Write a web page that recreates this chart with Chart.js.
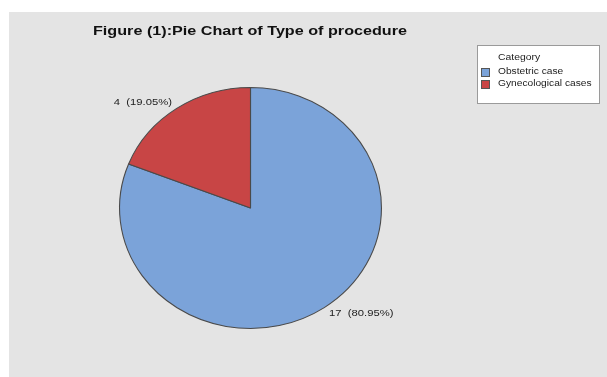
<!DOCTYPE html>
<html>
<head>
<meta charset="utf-8">
<script src="https://cdn.jsdelivr.net/npm/chart.js@4/dist/chart.umd.min.js"></script>
<style>
html,body{margin:0;padding:0;background:#fff;}
canvas{display:block;}
</style>
</head>
<body>
<canvas id="c" width="607" height="377"></canvas>
<script>
const titleText = "Figure (1):Pie Chart of Type of procedure";
const legendTitle = "Category";
const categories = ["Obstetric case", "Gynecological cases"];
const counts = [17, 4];
const percentLabels = ["80.95%", "19.05%"];
const colors = ["#7ba3d9", "#c84545"];

const RX = 131.5, RY = 121;
const SX = RX / RY;

function wideText(ctx, text, x, y, sx, align) {
  const w = ctx.measureText(text).width * sx;
  let left = x;
  if (align === 'right') left = x - w;
  ctx.save();
  ctx.textAlign = 'left';
  ctx.translate(left, y);
  ctx.scale(sx, 1);
  ctx.fillText(text, 0, 0);
  ctx.restore();
}

const stretchPlugin = {
  id: 'stretch',
  beforeDraw(chart) {
    const ctx = chart.ctx;
    ctx.save();
    ctx.fillStyle = '#ffffff';
    ctx.fillRect(0, 0, chart.width, chart.height);
    ctx.fillStyle = '#e4e4e4';
    ctx.fillRect(9, 12, chart.width - 9, chart.height - 12);
    ctx.restore();
  },
  beforeDatasetsDraw(chart) {
    const arc = chart.getDatasetMeta(0).data[0];
    const ctx = chart.ctx;
    ctx.save();
    ctx.translate(arc.x, arc.y);
    ctx.scale(SX, 1);
    ctx.translate(-arc.x, -arc.y);
  },
  afterDatasetsDraw(chart) {
    chart.ctx.restore();
  },
  afterDraw(chart) {
    const ctx = chart.ctx;
    ctx.save();
    ctx.textBaseline = 'middle';
    // title
    ctx.fillStyle = '#111';
    ctx.font = 'bold 13.5px "Liberation Sans", Arial, sans-serif';
    const tw = ctx.measureText(titleText).width;
    wideText(ctx, titleText, 93, 31, 314 / tw, 'left');

    // slice labels
    const meta = chart.getDatasetMeta(0);
    ctx.font = '9px "Liberation Sans", Arial, sans-serif';
    ctx.fillStyle = '#222';
    meta.data.forEach((a, i) => {
      const mid = (a.startAngle + a.endAngle) / 2;
      const k = 1.06;
      const x = a.x + Math.cos(mid) * RX * k;
      const y = a.y + Math.sin(mid) * RY * k;
      wideText(ctx, counts[i] + "  (" + percentLabels[i] + ")", x, y, 1.25, Math.cos(mid) < 0 ? 'right' : 'left');
    });

    // legend box
    ctx.fillStyle = '#ffffff';
    ctx.fillRect(477, 45, 123, 59);
    ctx.strokeStyle = '#9a9a9a';
    ctx.lineWidth = 1;
    ctx.strokeRect(477.5, 45.5, 122, 58);
    ctx.fillStyle = '#222';
    ctx.font = '8.5px "Liberation Sans", Arial, sans-serif';
    wideText(ctx, legendTitle, 498, 58, 1.22, 'left');
    categories.forEach((c, i) => {
      const y = 72 + i * 12;
      ctx.fillStyle = colors[i];
      ctx.fillRect(481, y - 4, 9, 9);
      ctx.strokeStyle = '#555';
      ctx.strokeRect(481.5, y - 3.5, 8, 8);
      ctx.fillStyle = '#222';
      wideText(ctx, c, 498, y, 1.2, 'left');
    });
    ctx.restore();
  }
};

new Chart(document.getElementById('c'), {
  type: 'pie',
  data: {
    labels: categories,
    datasets: [{
      data: counts,
      backgroundColor: colors,
      borderColor: '#4a4a4a',
      borderWidth: 1
    }]
  },
  options: {
    responsive: false,
    devicePixelRatio: 1,
    animation: false,
    layout: { padding: { left: 129.5, right: 235.5, top: 87, bottom: 48 } },
    plugins: {
      legend: { display: false },
      title: { display: false },
      tooltip: { enabled: false }
    }
  },
  plugins: [stretchPlugin]
});
</script>
</body>
</html>
